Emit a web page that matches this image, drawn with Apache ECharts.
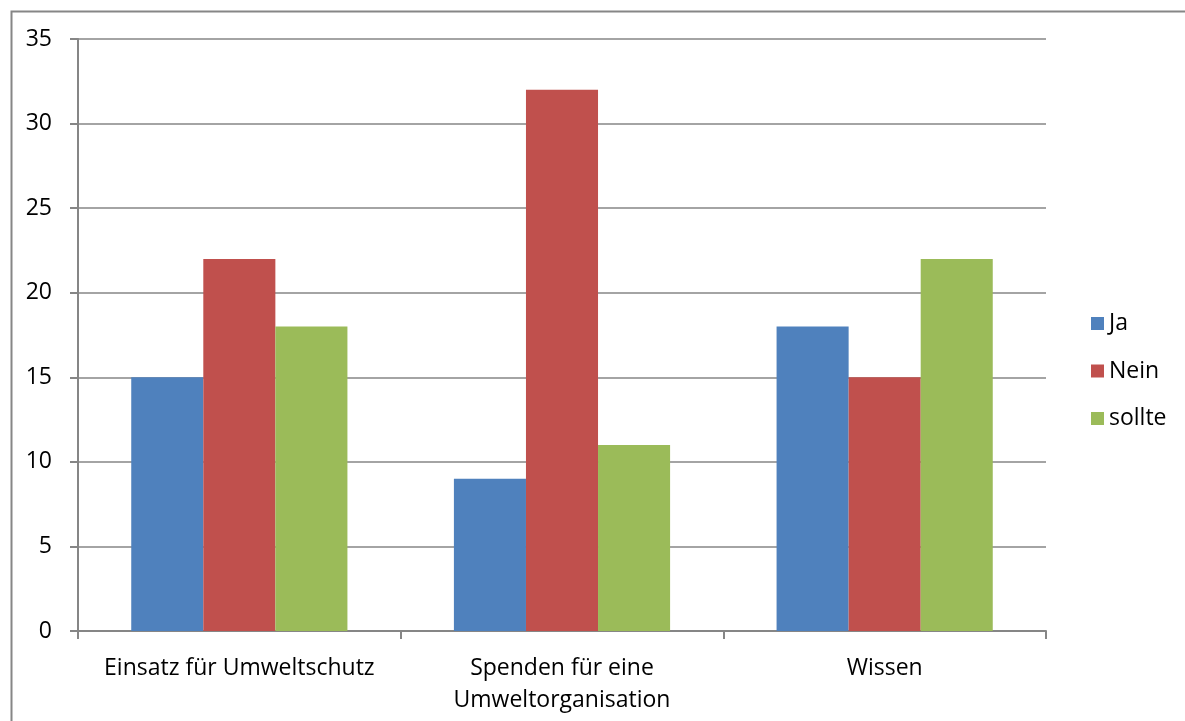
<!DOCTYPE html>
<html>
<head>
<meta charset="utf-8">
<script src="https://cdn.jsdelivr.net/npm/echarts@6/dist/echarts.min.js"></script>
<style>
html, body { margin: 0; padding: 0; background: #fff; }
#main { width: 1185px; height: 721px; }
</style>
</head>
<body>
<div id="main"></div>
<script>
// Kategorien und Werte
var categories = ["Einsatz für Umweltschutz", "Spenden für eine\nUmweltorganisation", "Wissen"];
var ja = [15, 9, 18];
var nein = [22, 32, 15];
var sollte = [18, 11, 22];

var axisGray = "#868686";
var font = "'Open Sans', sans-serif";

var myChart = echarts.init(document.getElementById("main"), null, { renderer: "canvas" });

var option = {
  animation: false,
  textStyle: { fontFamily: font },
  // äußerer Rahmen des Diagramms
  graphic: [{
    type: "rect",
    left: 9, top: 9,
    shape: { width: 1200, height: 740 },
    style: { fill: "none", stroke: axisGray, lineWidth: 2 },
    silent: true
  }],
  grid: { left: 78, right: 139, top: 39, bottom: 90 },
  legend: {
    orient: "vertical",
    left: 1086, top: 307,
    itemWidth: 13, itemHeight: 13, itemGap: 24.5,
    icon: "rect",
    textStyle: { fontSize: 23, color: "#000", fontFamily: font },
    data: ["Ja", "Nein", "sollte"]
  },
  xAxis: {
    type: "category",
    data: categories,
    axisLine: { lineStyle: { color: axisGray, width: 2 } },
    axisTick: { show: true, length: 8, lineStyle: { color: axisGray, width: 2 } },
    axisLabel: { fontSize: 23, color: "#000", margin: 21, lineHeight: 32, interval: 0 }
  },
  yAxis: {
    type: "value",
    min: 0, max: 35, interval: 5,
    axisLine: { show: true, lineStyle: { color: axisGray, width: 2 } },
    axisTick: { show: true, length: 8, lineStyle: { color: axisGray, width: 2 } },
    splitLine: { lineStyle: { color: axisGray, width: 1.5 } },
    axisLabel: { fontSize: 23, color: "#000", margin: 26 }
  },
  series: [
    { name: "Ja", type: "bar", data: ja, barGap: "0%", barCategoryGap: "33%", itemStyle: { color: "#4F81BD" } },
    { name: "Nein", type: "bar", data: nein, itemStyle: { color: "#C0504D" } },
    { name: "sollte", type: "bar", data: sollte, itemStyle: { color: "#9BBB59" } }
  ]
};

myChart.setOption(option);
</script>
</body>
</html>
